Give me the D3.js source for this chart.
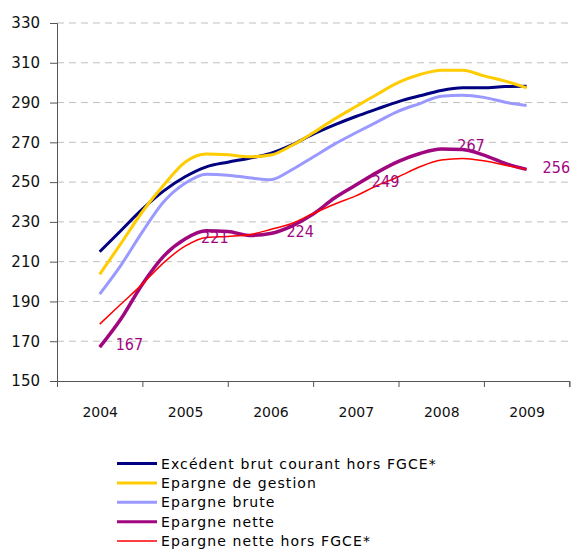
<!DOCTYPE html>
<html><head><meta charset="utf-8">
<script src="https://cdn.jsdelivr.net/npm/d3@7"></script>
<style>body{margin:0;background:#fff;} svg{display:block;}</style>
</head><body>
<svg id="c" width="573" height="549"></svg>
<script>
const years = [2004, 2005, 2006, 2007, 2008, 2009];
const yTicks = [150, 170, 190, 210, 230, 250, 270, 290, 310, 330];
// quarterly positions from 2004 to 2009
const periods = d3.range(0, 21).map(i => 2004 + i * 0.25);
const excedent = [215.0, 225.7, 236.4, 245.6, 252.7, 257.7, 260.0, 262.0, 264.4, 268.7, 274.1, 278.8, 283.0, 286.8, 290.5, 293.4, 296.1, 297.4, 297.4, 298.1, 298.2];
const gestion  = [203.6, 219.2, 235.1, 248.5, 260.0, 264.1, 263.7, 262.7, 263.6, 268.4, 274.8, 281.7, 288.0, 294.2, 300.1, 304.1, 306.3, 306.3, 303.4, 300.8, 297.4];
const brute    = [193.7, 208.3, 225.0, 240.1, 249.4, 254.0, 253.5, 252.2, 251.2, 256.2, 262.6, 269.1, 274.8, 280.3, 285.7, 289.5, 293.2, 293.7, 292.6, 290.2, 288.5];
const nette    = [167.0, 181.3, 198.7, 212.8, 221.4, 225.5, 225.2, 223.2, 224.2, 227.9, 233.9, 242.0, 248.5, 254.9, 260.4, 264.4, 266.7, 266.4, 263.6, 259.4, 256.4];
const netteHors= [178.6, 188.7, 198.7, 209.5, 217.8, 222.2, 222.7, 223.5, 226.2, 229.2, 234.2, 238.9, 243.1, 248.3, 252.7, 257.7, 261.1, 261.9, 260.7, 258.5, 256.4];
const labelYears = [2004, 2005, 2006, 2007, 2008, 2009];
const labelValues = [167, 221, 224, 249, 267, 256];
const seriesNames = ["Excédent brut courant hors FGCE*", "Epargne de gestion", "Epargne brute", "Epargne nette", "Epargne nette hors FGCE*"];
const seriesColors = ["#000080", "#FFCC00", "#9999FF", "#A0077F", "#FF0000"];
const seriesWidths = [3, 3, 3, 3.5, 1.5];
const seriesData = [excedent, gestion, brute, nette, netteHors];

const svg = d3.select("#c");
const font = "'DejaVu Sans', Verdana, sans-serif";
const fontC = "'DejaVu Sans Condensed', 'DejaVu Sans', sans-serif";
const x = d3.scaleLinear().domain([2003.5, 2009.5]).range([57, 569.3]);
const y = d3.scaleLinear().domain([150, 330]).range([381, 23]);

// gridlines
svg.append("g").selectAll("line").data(yTicks.filter(v => v > 150)).join("line")
  .attr("x1", 57).attr("x2", 569).attr("y1", d => y(d)).attr("y2", d => y(d))
  .attr("stroke", "#c0c0c0").attr("stroke-width", 1).attr("stroke-dasharray", "7,5");

// y axis
const ya = svg.append("g").attr("transform", "translate(57,0)")
  .call(d3.axisLeft(y).tickValues(yTicks).tickSize(7).tickPadding(10).tickFormat(d3.format("d")));
ya.select(".domain").attr("stroke", "#555");
ya.selectAll(".tick line").attr("stroke", "#555");
ya.selectAll("text").attr("font-family", font).attr("font-size", 15).attr("fill", "#111");

// x axis with boundary ticks
const bounds = d3.range(0, 7).map(i => 2003.5 + i);
const xa = svg.append("g").attr("transform", "translate(0,381)")
  .call(d3.axisBottom(x).tickValues(bounds).tickSize(6).tickFormat(""));
xa.select(".domain").attr("stroke", "#555");
xa.selectAll(".tick line").attr("stroke", "#555");
const xl = svg.append("g").attr("transform", "translate(0,381)")
  .call(d3.axisBottom(x).tickValues(years).tickSize(0).tickPadding(26).tickFormat(d3.format("d")));
xl.select(".domain").remove();
xl.selectAll("text").attr("font-family", font).attr("font-size", 14).attr("fill", "#111");

// lines
const line = d3.line().x((d, i) => x(periods[i])).y(d => y(d)).curve(d3.curveMonotoneX);
seriesData.forEach((s, k) => {
  svg.append("path").datum(s).attr("d", line).attr("fill", "none")
    .attr("stroke", seriesColors[k]).attr("stroke-width", seriesWidths[k])
    .attr("stroke-linejoin", "round");
});

// labels
svg.append("g").selectAll("text").data(labelValues).join("text")
  .attr("x", (d, i) => x(labelYears[i]) + 16)
  .attr("y", (d, i) => y(d) + 3)
  .attr("font-family", fontC).attr("font-size", 16).attr("fill", "#A0077F")
  .text(d => d);

// legend
const lg = svg.append("g");
seriesNames.forEach((n, i) => {
  const yy = 463.5 + i * 19.4;
  lg.append("line").attr("x1", 117).attr("x2", 157).attr("y1", yy).attr("y2", yy)
    .attr("stroke", seriesColors[i]).attr("stroke-width", i === 4 ? 1.5 : 3);
  lg.append("text").attr("x", 161).attr("y", yy + 5)
    .attr("font-family", font).attr("font-size", 14).attr("letter-spacing", 1.1)
    .attr("fill", "#000").text(n);
});
</script>
</body></html>
